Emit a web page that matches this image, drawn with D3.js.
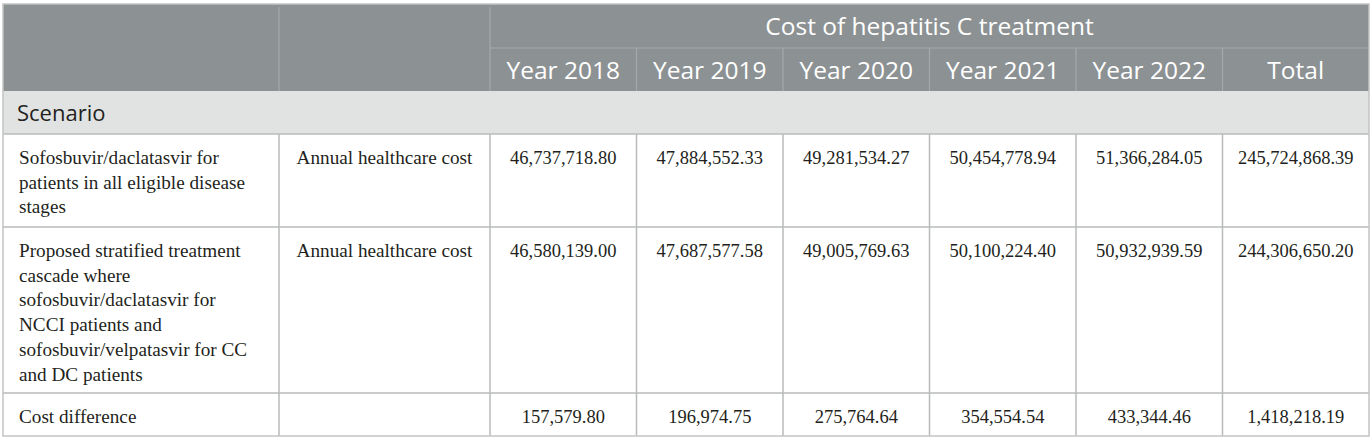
<!DOCTYPE html>
<html>
<head>
<meta charset="utf-8">
<script src="https://cdn.jsdelivr.net/npm/d3@7"></script>
<style>
  html, body { margin: 0; padding: 0; background: #fff; }
  svg { display: block; }
</style>
</head>
<body>
<div id="chart"></div>
<script>
// table content
const groupTitle = "Cost of hepatitis C treatment";
const sectionLabel = "Scenario";
const columns = ["Year 2018", "Year 2019", "Year 2020", "Year 2021", "Year 2022", "Total"];

const scenarioLines = [
  ["Sofosbuvir/daclatasvir for", "patients in all eligible disease", "stages"],
  ["Proposed stratified treatment", "cascade where", "sofosbuvir/daclatasvir for", "NCCI patients and",
   "sofosbuvir/velpatasvir for CC", "and DC patients"],
  ["Cost difference"]
];
const measureLabels = ["Annual healthcare cost", "Annual healthcare cost", ""];

const allStagesCost = [46737718.80, 47884552.33, 49281534.27, 50454778.94, 51366284.05, 245724868.39];
const stratifiedCost = [46580139.00, 47687577.58, 49005769.63, 50100224.40, 50932939.59, 244306650.20];
const costDifference = [157579.80, 196974.75, 275764.64, 354554.54, 433344.46, 1418218.19];

const rowValues = [allStagesCost, stratifiedCost, costDifference];

const W = 1372, H = 440;
const leftX = 3, rightX = 1369, col1 = 279, col2 = 490;
const topY = 4, headMid = 48, headBottom = 91, sectionBottom = 134;
const rowEdges = [134, 227, 393, 436];

const headBg = "#8c9193", headLine = "#a5a9aa", sectionBg = "#e1e3e2";
const border = "#b9bbbb", textCol = "#231f20";
const sans = "'Open Sans', sans-serif", serif = "'Liberation Serif', 'Times New Roman', serif";

const fmt = d3.format(",.2f");

const x = d3.scaleBand().domain(columns).range([col2, rightX]);

const svg = d3.select("#chart").append("svg")
  .attr("width", W).attr("height", H);

// backgrounds
svg.append("rect").attr("x", leftX).attr("y", topY)
  .attr("width", rightX - leftX).attr("height", headBottom - topY).attr("fill", headBg);
svg.append("rect").attr("x", leftX).attr("y", headBottom)
  .attr("width", rightX - leftX).attr("height", sectionBottom - headBottom).attr("fill", sectionBg);

// header grid
const hl = svg.append("g").attr("stroke", headLine).attr("stroke-width", 1.2);
[col1, col2].forEach(v => hl.append("line").attr("x1", v).attr("x2", v).attr("y1", topY + 3).attr("y2", headBottom));
hl.append("line").attr("x1", col2).attr("x2", rightX).attr("y1", headMid).attr("y2", headMid);
columns.slice(1).forEach(c => hl.append("line")
  .attr("x1", x(c)).attr("x2", x(c)).attr("y1", headMid).attr("y2", headBottom));

// header text
svg.append("text")
  .attr("x", (col2 + rightX) / 2).attr("y", 35)
  .attr("text-anchor", "middle")
  .attr("font-family", sans).attr("font-size", 24.5).attr("fill", "#fff")
  .text(groupTitle);

svg.append("g").selectAll("text")
  .data(columns)
  .join("text")
  .attr("x", d => x(d) + x.bandwidth() / 2)
  .attr("y", 79)
  .attr("text-anchor", "middle")
  .attr("font-family", sans).attr("font-size", 24.5).attr("fill", "#fff")
  .text(d => d);

svg.append("text")
  .attr("x", 17).attr("y", 121)
  .attr("font-family", sans).attr("font-size", 22).attr("fill", textCol)
  .text(sectionLabel);

// body grid
const bl = svg.append("g").attr("stroke", border).attr("stroke-width", 1.5);
rowEdges.slice(0, -1).forEach(v => bl.append("line").attr("x1", leftX).attr("x2", rightX).attr("y1", v).attr("y2", v));
[col1, col2].concat(columns.slice(1).map(c => x(c))).forEach(v =>
  bl.append("line").attr("x1", v).attr("x2", v).attr("y1", sectionBottom).attr("y2", rowEdges[3]));

// body rows
const rows = svg.append("g").selectAll("g")
  .data(rowValues)
  .join("g")
  .attr("transform", (d, i) => `translate(0,${rowEdges[i] + 30})`)
  .attr("font-family", serif).attr("fill", textCol);

rows.append("text")
  .attr("font-size", 19.2)
  .selectAll("tspan")
  .data((d, i) => scenarioLines[i])
  .join("tspan")
  .attr("x", 19)
  .attr("y", (d, i) => i * 24.7)
  .text(d => d);

rows.append("text")
  .attr("x", (col1 + col2) / 2)
  .attr("text-anchor", "middle")
  .attr("font-size", 19.2)
  .text((d, i) => measureLabels[i]);

rows.selectAll(".val")
  .data(d => d)
  .join("text")
  .attr("class", "val")
  .attr("x", (d, i) => x(columns[i]) + x.bandwidth() / 2)
  .attr("text-anchor", "middle")
  .attr("font-size", 18.5)
  .text(d => fmt(d));

// outer border
svg.append("rect").attr("x", leftX).attr("y", topY)
  .attr("width", rightX - leftX).attr("height", rowEdges[3] - topY)
  .attr("fill", "none").attr("stroke", "#c2c4c4").attr("stroke-width", 1.5);
</script>
</body>
</html>
